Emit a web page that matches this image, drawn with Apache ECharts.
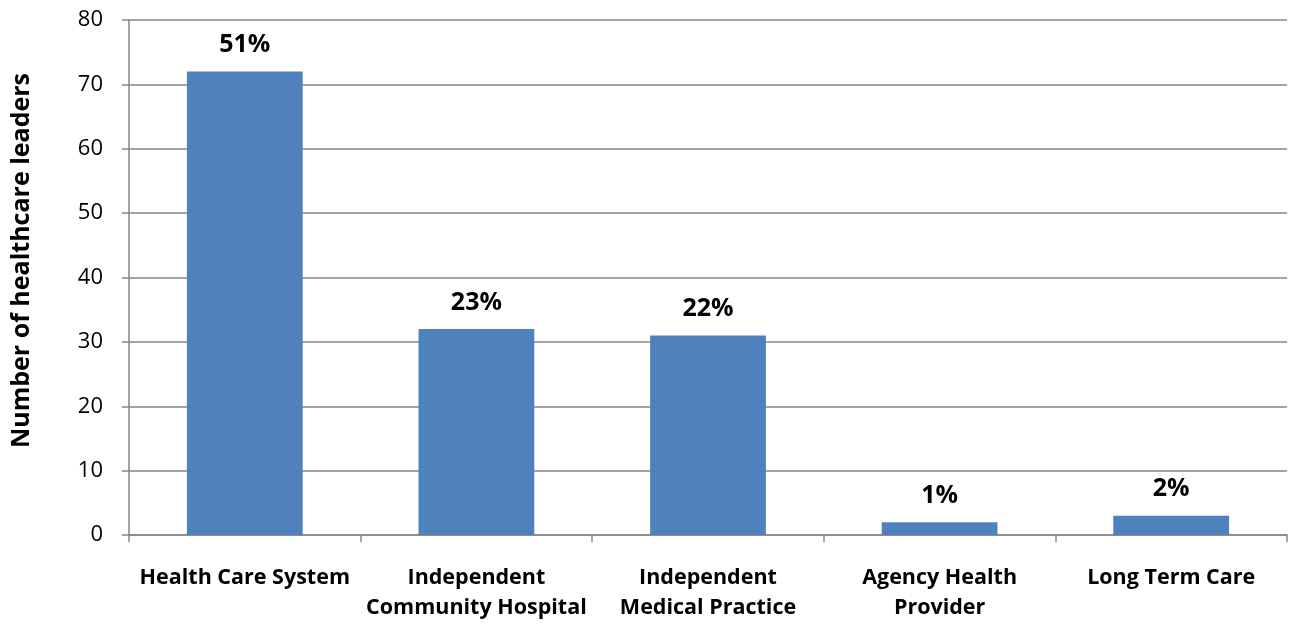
<!DOCTYPE html>
<html>
<head>
<meta charset="utf-8">
<script src="https://cdn.jsdelivr.net/npm/echarts@6/dist/echarts.min.js"></script>
<style>
  html, body { margin: 0; padding: 0; background: #fff; }
  #chart { width: 1295px; height: 626px; }
</style>
</head>
<body>
<div id="chart"></div>
<script>
// data
var categories = ['Health Care System', 'Independent\nCommunity Hospital', 'Independent\nMedical Practice', 'Agency Health\nProvider', 'Long Term Care']
var leaders = [72, 32, 31, 2, 3]
var shareLabels = ['51%', '23%', '22%', '1%', '2%']
var yTicks = [0, 10, 20, 30, 40, 50, 60, 70, 80]

var font = '"Open Sans", sans-serif'
var gridColor = '#868686'

var chart = echarts.init(document.getElementById('chart'))
chart.setOption({
  animation: false,
  grid: { left: 129, right: 8, top: 20, bottom: 91 },
  xAxis: {
    type: 'category',
    data: categories,
    axisLine: { lineStyle: { color: gridColor, width: 1.5 } },
    axisTick: { show: true, length: 7, lineStyle: { color: gridColor, width: 1.5 } },
    axisLabel: {
      color: '#000',
      fontFamily: font,
      fontWeight: 'bold',
      fontSize: 21.5,
      lineHeight: 30,
      margin: 28,
      interval: 0
    }
  },
  yAxis: {
    type: 'value',
    min: yTicks[0],
    max: yTicks[yTicks.length - 1],
    interval: 10,
    name: 'Number of healthcare leaders',
    nameLocation: 'middle',
    nameGap: 95,
    nameTextStyle: {
      color: '#000', fontFamily: font, fontWeight: 'bold', fontSize: 25,
      padding: [0, 0, 0, 34]
    },
    axisLine: { show: true, lineStyle: { color: gridColor, width: 1.5 } },
    axisTick: { show: true, length: 7, lineStyle: { color: gridColor, width: 1.5 } },
    splitLine: { lineStyle: { color: gridColor, width: 1.5 } },
    axisLabel: { color: '#000', fontFamily: font, fontSize: 22, margin: 26 }
  },
  series: [
    {
      type: 'bar',
      data: leaders,
      barWidth: '50%',
      itemStyle: { color: '#4F81BD' },
      label: {
        show: true,
        position: 'top',
        distance: 14,
        color: '#000',
        fontFamily: font,
        fontWeight: 'bold',
        fontSize: 25,
        formatter: function (p) { return shareLabels[p.dataIndex] }
      }
    }
  ]
})
window.onresize = chart.resize
</script>
</body>
</html>
